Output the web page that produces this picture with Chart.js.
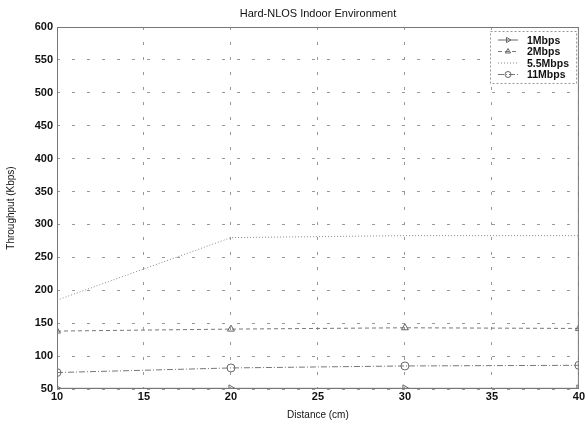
<!DOCTYPE html>
<html>
<head>
<meta charset="utf-8">
<script src="https://cdn.jsdelivr.net/npm/chart.js@4.4.0/dist/chart.umd.min.js"></script>
<style>
  html, body { margin: 0; padding: 0; background: #fff; }
  #wrap { width: 586px; height: 421px; position: relative; }
</style>
</head>
<body>
<div id="wrap"><canvas id="chart"></canvas></div>
<script>
// chart data
const distances = [10, 20, 30, 40];
const rate1 = [51, 51, 51, 51];
const rate2 = [138, 141, 143, 142];
const rate55 = [185, 280, 283, 283];
const rate11 = [75, 82, 85, 86];
const seriesNames = ["1Mbps", "2Mbps", "5.5Mbps", "11Mbps"];
const xTicks = [10, 15, 20, 25, 30, 35, 40];
const yTicks = [50, 100, 150, 200, 250, 300, 350, 400, 450, 500, 550, 600];

const FONT = "'Liberation Sans', Arial, sans-serif";

// draws axes box, title and legend like the matlab figure
const decor = {
  id: "decor",
  afterDraw(chart) {
    const ctx = chart.ctx;
    const area = chart.chartArea;
    ctx.save();
    ctx.strokeStyle = "#777";
    ctx.lineWidth = 1;
    ctx.strokeRect(area.left + 0.5, area.top + 0.5, area.right - area.left - 1, area.bottom - area.top - 1);
    // title
    ctx.fillStyle = "#111";
    ctx.font = "11px " + FONT;
    ctx.textAlign = "center";
    ctx.textBaseline = "middle";
    ctx.fillText("Hard-NLOS Indoor Environment", (area.left + area.right) / 2, 14);
    // legend
    const lx = 490, ly = 31, lw = 86, lh = 52;
    ctx.fillStyle = "#fff";
    ctx.fillRect(lx, ly, lw, lh);
    ctx.strokeStyle = "#999";
    ctx.setLineDash([2, 2]);
    ctx.strokeRect(lx + 0.5, ly + 0.5, lw, lh);
    chart.data.datasets.forEach((ds, i) => {
      const y = ly + 9 + i * 11.5;
      ctx.strokeStyle = ds.borderColor;
      ctx.lineWidth = 1;
      ctx.setLineDash(ds.borderDash || []);
      ctx.beginPath();
      ctx.moveTo(lx + 8, y);
      ctx.lineTo(lx + 28, y);
      ctx.stroke();
      ctx.setLineDash([]);
      if (ds.pointRadius > 0) {
        ctx.fillStyle = "rgba(0,0,0,0)";
        ctx.strokeStyle = ds.pointBorderColor;
        Chart.helpers.drawPoint(ctx, { pointStyle: ds.pointStyle, radius: 3, rotation: ds.pointRotation || 0, borderWidth: 1 }, lx + 18, y);
      }
      ctx.fillStyle = "#111";
      ctx.font = "bold 10.5px " + FONT;
      ctx.textAlign = "left";
      ctx.fillText(ds.label, lx + 37, y + 1);
    });
    ctx.restore();
  }
};

new Chart(document.getElementById("chart"), {
  type: "line",
  data: {
    datasets: [
      {
        label: seriesNames[0],
        data: distances.map((d, i) => ({ x: d, y: rate1[i] })),
        borderColor: "#666",
        borderWidth: 1,
        pointStyle: "triangle",
        pointRotation: 90,
        pointRadius: 4,
        pointBorderColor: "#666",
        pointBackgroundColor: "transparent",
      },
      {
        label: seriesNames[1],
        data: distances.map((d, i) => ({ x: d, y: rate2[i] })),
        borderColor: "#777",
        borderWidth: 1,
        borderDash: [4, 3],
        pointStyle: "triangle",
        pointRadius: 4,
        pointBorderColor: "#666",
        pointBackgroundColor: "transparent",
      },
      {
        label: seriesNames[2],
        data: distances.map((d, i) => ({ x: d, y: rate55[i] })),
        borderColor: "#888",
        borderWidth: 1,
        borderDash: [1, 2],
        pointStyle: "rect",
        pointRadius: 0,
        pointBorderColor: "#888",
        pointBackgroundColor: "transparent",
      },
      {
        label: seriesNames[3],
        data: distances.map((d, i) => ({ x: d, y: rate11[i] })),
        borderColor: "#777",
        borderWidth: 1,
        borderDash: [6, 2, 1, 2],
        pointStyle: "circle",
        pointRadius: 4,
        pointBorderColor: "#666",
        pointBackgroundColor: "transparent",
      },
    ],
  },
  options: {
    responsive: true,
    maintainAspectRatio: false,
    animation: false,
    layout: { padding: { top: 27, right: 3, left: 0, bottom: 0 } },
    plugins: {
      legend: { display: false },
      title: { display: false },
      tooltip: { enabled: false },
    },
    scales: {
      x: {
        type: "linear",
        min: 10,
        max: 40,
        afterBuildTicks: (axis) => { axis.ticks = xTicks.map((v) => ({ value: v })); },
        afterFit: (axis) => { axis.height = 32; },
        grid: { color: "#999", drawTicks: false },
        border: { display: false, dash: [3, 12] },
        ticks: { color: "#111", font: { family: FONT, size: 11, weight: "bold" }, padding: 1 },
        title: { display: true, text: "Distance (cm)", color: "#111", font: { family: FONT, size: 10 }, padding: { top: -8, bottom: 0 } },
      },
      y: {
        min: 50,
        max: 600,
        afterBuildTicks: (axis) => { axis.ticks = yTicks.map((v) => ({ value: v })); },
        afterFit: (axis) => { axis.width = 57; },
        grid: { color: "#999", drawTicks: false },
        border: { display: false, dash: [3, 12] },
        ticks: { color: "#111", font: { family: FONT, size: 11, weight: "bold" }, padding: 4 },
        title: { display: true, text: "Throughput (Kbps)", color: "#111", font: { family: FONT, size: 10 }, padding: { top: 5, bottom: 2 } },
      },
    },
  },
  plugins: [decor],
});
</script>
</body>
</html>
